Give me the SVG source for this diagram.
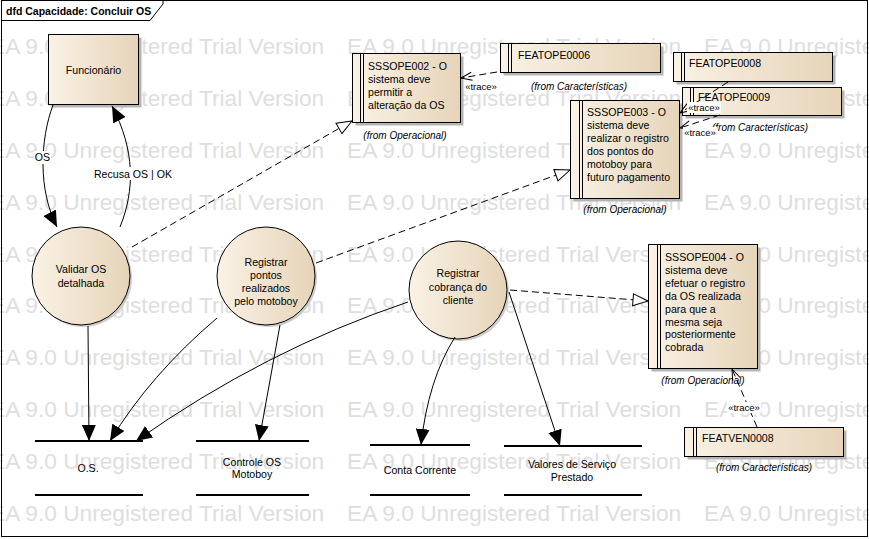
<svg xmlns="http://www.w3.org/2000/svg" width="869" height="539" viewBox="0 0 869 539">
<defs>
<linearGradient id="g" x1="0" y1="0" x2="1" y2="0">
<stop offset="0" stop-color="#faf2e5"/>
<stop offset="1" stop-color="#e6d4b9"/>
</linearGradient>
<marker id="af" viewBox="0 0 16 14" refX="16" refY="7" markerWidth="16" markerHeight="14" orient="auto" markerUnits="userSpaceOnUse"><path d="M0,0 L16,7 L0,14 z" fill="#000"/></marker>
<marker id="ah" viewBox="-1 -1 17 14" refX="15" refY="6" markerWidth="17" markerHeight="14" orient="auto" markerUnits="userSpaceOnUse"><path d="M0,0 L15,6 L0,12 z" fill="#fff" stroke="#000" stroke-dasharray="none"/></marker>
<marker id="ao" viewBox="-1 -1 13 10" refX="11" refY="4" markerWidth="13" markerHeight="10" orient="auto" markerUnits="userSpaceOnUse"><path d="M0,0 L11,4 L0,8" fill="none" stroke="#000" stroke-dasharray="none"/></marker>
</defs>
<style>
.wm{font-family:"Liberation Sans",Arial,sans-serif;font-size:22.7px;fill:#dedede}
.t{font-family:"Liberation Sans",Arial,sans-serif;font-size:10.6px;fill:#000}
.c{text-anchor:middle}
.i{font-style:italic;font-size:10px}
.tr{font-size:9.5px}
.n{fill:url(#g);stroke:#000;stroke-width:1}
.sh{fill:#b4b4b4}
.csh{fill:#cdcdcd}
.dl{stroke:#000;stroke-width:1}
.dash{fill:none;stroke:#000;stroke-width:1;stroke-dasharray:7,4}
.sol{fill:none;stroke:#000;stroke-width:1}
.store{stroke:#000;stroke-width:2}
.bg{fill:#fff}
</style>

<g id="watermark" class="wm">
<text x="-10" y="54">EA 9.0 Unregistered Trial Version</text><text x="347" y="54">EA 9.0 Unregistered Trial Version</text><text x="704" y="54">EA 9.0 Unregistered Trial Version</text>
<text x="-10" y="106">EA 9.0 Unregistered Trial Version</text><text x="347" y="106">EA 9.0 Unregistered Trial Version</text><text x="704" y="106">EA 9.0 Unregistered Trial Version</text>
<text x="-10" y="158">EA 9.0 Unregistered Trial Version</text><text x="347" y="158">EA 9.0 Unregistered Trial Version</text><text x="704" y="158">EA 9.0 Unregistered Trial Version</text>
<text x="-10" y="210">EA 9.0 Unregistered Trial Version</text><text x="347" y="210">EA 9.0 Unregistered Trial Version</text><text x="704" y="210">EA 9.0 Unregistered Trial Version</text>
<text x="-10" y="262">EA 9.0 Unregistered Trial Version</text><text x="347" y="262">EA 9.0 Unregistered Trial Version</text><text x="704" y="262">EA 9.0 Unregistered Trial Version</text>
<text x="-10" y="313">EA 9.0 Unregistered Trial Version</text><text x="347" y="313">EA 9.0 Unregistered Trial Version</text><text x="704" y="313">EA 9.0 Unregistered Trial Version</text>
<text x="-10" y="365">EA 9.0 Unregistered Trial Version</text><text x="347" y="365">EA 9.0 Unregistered Trial Version</text><text x="704" y="365">EA 9.0 Unregistered Trial Version</text>
<text x="-10" y="417">EA 9.0 Unregistered Trial Version</text><text x="347" y="417">EA 9.0 Unregistered Trial Version</text><text x="704" y="417">EA 9.0 Unregistered Trial Version</text>
<text x="-10" y="469">EA 9.0 Unregistered Trial Version</text><text x="347" y="469">EA 9.0 Unregistered Trial Version</text><text x="704" y="469">EA 9.0 Unregistered Trial Version</text>
<text x="-10" y="521">EA 9.0 Unregistered Trial Version</text><text x="347" y="521">EA 9.0 Unregistered Trial Version</text><text x="704" y="521">EA 9.0 Unregistered Trial Version</text>
</g>

<g id="frame">
<rect x="1.5" y="0.5" width="866" height="536" fill="none" stroke="#000"/>
<path d="M1.5,20.5 H150 L163,4 V0.5" fill="none" stroke="#000"/>
<text x="6" y="15" class="t" style="font-weight:bold;font-size:10.5px">dfd Capacidade: Concluir OS</text>
</g>

<g id="funcionario">
<rect x="51.5" y="37.5" width="90" height="70" class="sh"/>
<rect x="48.5" y="34.5" width="90" height="70" class="n"/>
<text x="93.5" y="73.5" class="t c">Funcionário</text>
</g>

<g id="validar">
<circle cx="83" cy="278" r="49" class="csh"/>
<circle cx="81" cy="276" r="49" class="n"/>
<text x="81" y="273" class="t c">Validar OS</text>
<text x="81" y="287" class="t c">detalhada</text>
</g>

<g id="registrarPontos">
<circle cx="268" cy="278" r="49" class="csh"/>
<circle cx="266" cy="276" r="49" class="n"/>
<text x="266" y="266" class="t c">Registrar</text>
<text x="266" y="279" class="t c">pontos</text>
<text x="266" y="292" class="t c">realizados</text>
<text x="266" y="305" class="t c">pelo motoboy</text>
</g>

<g id="registrarCobranca">
<circle cx="460" cy="292" r="49" class="csh"/>
<circle cx="458" cy="290" r="49" class="n"/>
<text x="458" y="277" class="t c">Registrar</text>
<text x="458" y="291" class="t c">cobrança do</text>
<text x="458" y="304" class="t c">cliente</text>
</g>

<g id="SSSOPE002">
<rect x="355.5" y="56.5" width="108" height="69" class="sh"/>
<rect x="352.5" y="53.5" width="108" height="69" class="n"/>
<line x1="360.5" y1="53.5" x2="360.5" y2="122.5" class="dl"/>
<line x1="363.5" y1="53.5" x2="363.5" y2="122.5" class="dl"/>
<text x="368" y="69.5" class="t">SSSOPE002 - O</text>
<text x="368" y="82.5" class="t">sistema deve</text>
<text x="368" y="95.5" class="t">permitir a</text>
<text x="368" y="108.5" class="t">alteração da OS</text>
<text x="405" y="139" class="t c i">(from Operacional)</text>
</g>

<g id="FEATOPE0006">
<rect x="503.5" y="46.5" width="160" height="29" class="sh"/>
<rect x="500.5" y="43.5" width="160" height="29" class="n"/>
<line x1="508.5" y1="43.5" x2="508.5" y2="72.5" class="dl"/>
<line x1="511.5" y1="43.5" x2="511.5" y2="72.5" class="dl"/>
<text x="518" y="59" class="t">FEATOPE0006</text>
<text x="579" y="90" class="t c i">(from Características)</text>
</g>

<g id="SSSOPE003">
<rect x="573.5" y="103.5" width="109" height="98" class="sh"/>
<rect x="570.5" y="100.5" width="109" height="98" class="n"/>
<line x1="579.5" y1="100.5" x2="579.5" y2="198.5" class="dl"/>
<line x1="582.5" y1="100.5" x2="582.5" y2="198.5" class="dl"/>
<text x="587" y="116" class="t">SSSOPE003 - O</text>
<text x="587" y="129" class="t">sistema deve</text>
<text x="587" y="142" class="t">realizar o registro</text>
<text x="587" y="155" class="t">dos pontos do</text>
<text x="587" y="168" class="t">motoboy para</text>
<text x="587" y="181" class="t">futuro pagamento</text>
<text x="625" y="213" class="t c i">(from Operacional)</text>
</g>

<g id="FEATOPE0008">
<rect x="676.5" y="55.5" width="159" height="29" class="sh"/>
<rect x="673.5" y="52.5" width="159" height="29" class="n"/>
<line x1="681.5" y1="52.5" x2="681.5" y2="81.5" class="dl"/>
<line x1="684.5" y1="52.5" x2="684.5" y2="81.5" class="dl"/>
<text x="689" y="67" class="t">FEATOPE0008</text>
</g>

<g id="FEATOPE0009">
<rect x="685.5" y="90.5" width="159" height="28" class="sh"/>
<rect x="682.5" y="87.5" width="159" height="28" class="n"/>
<line x1="690.5" y1="87.5" x2="690.5" y2="115.5" class="dl"/>
<line x1="693.5" y1="87.5" x2="693.5" y2="115.5" class="dl"/>
<text x="698" y="101" class="t">FEATOPE0009</text>
<text x="760" y="131" class="t c i">(from Características)</text>
</g>

<g id="SSSOPE004">
<rect x="651.5" y="247.5" width="109" height="124" class="sh"/>
<rect x="648.5" y="244.5" width="109" height="124" class="n"/>
<line x1="657.5" y1="244.5" x2="657.5" y2="368.5" class="dl"/>
<line x1="660.5" y1="244.5" x2="660.5" y2="368.5" class="dl"/>
<text x="665" y="261" class="t">SSSOPE004 - O</text>
<text x="665" y="274" class="t">sistema deve</text>
<text x="665" y="287" class="t">efetuar o registro</text>
<text x="665" y="299.5" class="t">da OS realizada</text>
<text x="665" y="312.5" class="t">para que a</text>
<text x="665" y="325.5" class="t">mesma seja</text>
<text x="665" y="338" class="t">posteriormente</text>
<text x="665" y="351" class="t">cobrada</text>
<text x="703" y="384" class="t c i">(from Operacional)</text>
</g>

<g id="FEATVEN0008">
<rect x="687.5" y="430.5" width="159" height="29" class="sh"/>
<rect x="684.5" y="427.5" width="159" height="29" class="n"/>
<line x1="693.5" y1="427.5" x2="693.5" y2="456.5" class="dl"/>
<line x1="696.5" y1="427.5" x2="696.5" y2="456.5" class="dl"/>
<text x="702" y="442" class="t">FEATVEN0008</text>
<text x="764" y="471" class="t c i">(from Características)</text>
</g>

<g id="store-os">
<line x1="35" y1="441" x2="143" y2="441" class="store"/>
<line x1="35" y1="495" x2="143" y2="495" class="store"/>
<text x="88" y="472" class="t c">O.S.</text>
</g>
<g id="store-controle">
<line x1="196" y1="441" x2="309" y2="441" class="store"/>
<line x1="196" y1="495" x2="309" y2="495" class="store"/>
<text x="252" y="466" class="t c">Controle OS</text>
<text x="252" y="478" class="t c">Motoboy</text>
</g>
<g id="store-conta">
<line x1="370" y1="445" x2="470" y2="445" class="store"/>
<line x1="370" y1="495" x2="470" y2="495" class="store"/>
<text x="420" y="474" class="t c">Conta Corrente</text>
</g>
<g id="store-valores">
<line x1="504" y1="446" x2="642" y2="446" class="store"/>
<line x1="504" y1="495" x2="642" y2="495" class="store"/>
<text x="572" y="468" class="t c">Valores de Serviço</text>
<text x="572" y="481" class="t c">Prestado</text>
</g>

<g id="connectors">
<path d="M53,105 C40,140 38,190 57,227" class="sol" marker-end="url(#af)"/>
<path d="M120,227 C135,190 135,150 112,106" class="sol" marker-end="url(#af)"/>
<path d="M132,247 L352,121" class="dash" marker-end="url(#ah)"/>
<path d="M316,263 L570,170" class="dash" marker-end="url(#ah)"/>
<path d="M510,290 L648,301" class="dash" marker-end="url(#ah)"/>
<path d="M497,72 L461,78" class="dash" marker-end="url(#ao)"/>
<path d="M728,82 L680,113" class="dash" marker-end="url(#ao)"/>
<path d="M720,115 L680,128" class="dash" marker-end="url(#ao)"/>
<path d="M757,427 L732,369" class="dash" marker-end="url(#ao)"/>
<path d="M88,326 L89,441" class="sol" marker-end="url(#af)"/>
<path d="M217,318 Q150,375 110,441" class="sol" marker-end="url(#af)"/>
<path d="M408,302 Q265,350 136,441" class="sol" marker-end="url(#af)"/>
<path d="M280,325 L259,441" class="sol" marker-end="url(#af)"/>
<path d="M455,337 Q428,380 421,445" class="sol" marker-end="url(#af)"/>
<path d="M509,292 L560,446" class="sol" marker-end="url(#af)"/>
</g>

<g id="connector-labels">
<rect x="34" y="151" width="17" height="13" class="bg"/>
<text x="42.5" y="161" class="t c">OS</text>
<rect x="94" y="167" width="78" height="13" class="bg"/>
<text x="133" y="178" class="t c">Recusa OS | OK</text>
<rect x="464" y="81" width="34" height="11" class="bg"/>
<text x="481" y="90" class="t c tr">«trace»</text>
<rect x="687" y="102" width="34" height="11" class="bg"/>
<text x="704" y="111" class="t c tr">«trace»</text>
<rect x="683" y="127" width="34" height="11" class="bg"/>
<text x="700" y="136" class="t c tr">«trace»</text>
<rect x="727" y="402" width="34" height="11" class="bg"/>
<text x="744" y="411" class="t c tr">«trace»</text>
</g>
</svg>
